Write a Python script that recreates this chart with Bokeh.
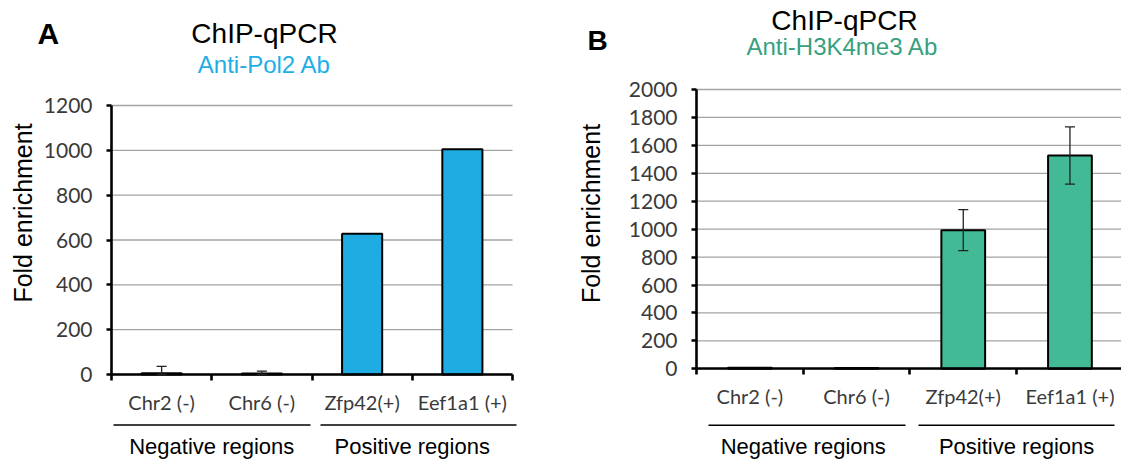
import numpy as np
from bokeh.plotting import figure
from bokeh.models import (Range1d, LinearAxis, FixedTicker, Label, Whisker,
                          ColumnDataSource, TeeHead)
from bokeh.layouts import row
from bokeh.embed import file_html
from bokeh.resources import INLINE

# ---------------- data ----------------
categories = ["Chr2 (-)", "Chr6 (-)", "Zfp42(+)", "Eef1a1 (+)"]
groups = ["Negative regions", "Positive regions"]
group_sizes = [2, 2]

pol2_values = [6, 5, 628, 1005]
pol2_errors = [30, 10, 0, 0]

h3k4_values = [7, 6, 993, 1527]
h3k4_errors = [0, 0, 147, 205]

y_label = "Fold enrichment"
main_title = "ChIP-qPCR"
pol2_subtitle = "Anti-Pol2 Ab"
h3k4_subtitle = "Anti-H3K4me3 Ab"
pol2_ticks = [0, 200, 400, 600, 800, 1000, 1200]
h3k4_ticks = [0, 200, 400, 600, 800, 1000, 1200, 1400, 1600, 1800, 2000]

FIG_H = 459
TICK_FONT = "Lato"
ARIAL = "Liberation Sans"


def make_panel(values, errors, ticks, bar_color, sub_color, subtitle, letter, lay):
    ox = lay["fig_left"]            # page x of the figure's left edge
    W = lay["fig_w"]
    L, T, B = lay["frame"]          # plot area (page px): left, top, bottom
    sx = lay["sx"]                  # px per category
    ymax = ticks[-1]
    sy = (B - T) / ymax
    n = len(categories)

    def dx(px):
        return (px - L) / sx

    def dy(py):
        return (B - py) / sy

    p = figure(width=W, height=FIG_H,
               x_range=Range1d(dx(ox), dx(ox + W)), y_range=Range1d(dy(FIG_H), dy(0)),
               x_axis_type=None, y_axis_type=None,
               output_backend="svg", toolbar_location=None,
               min_border_left=0, min_border_right=0, min_border_top=0, min_border_bottom=0)
    p.outline_line_color = None
    p.background_fill_color = "white"
    p.border_fill_color = "white"

    # horizontal grid lines at the y ticks across the plot area
    p.segment(x0=[0] * len(ticks), x1=[n] * len(ticks), y0=ticks, y1=ticks,
              line_color="#a3a3a3", line_width=1.3)

    # y axis
    yaxis = LinearAxis(ticker=FixedTicker(ticks=ticks), fixed_location=0, bounds=(0, ymax),
                       axis_line_width=2.6, axis_line_color="black",
                       major_tick_out=5, major_tick_in=0, major_tick_line_width=2.6,
                       major_tick_line_color="black",
                       minor_tick_out=0, minor_tick_in=0,
                       major_label_text_font=TICK_FONT,
                       major_label_text_font_size="21px",
                       major_label_text_color="#3a3a3a",
                       major_label_standoff=14)
    p.add_layout(yaxis, "left")

    # x axis: labels at category centres, ticks at category boundaries
    centres = [i + 0.5 for i in range(n)]
    bounds = list(range(n + 1))
    xaxis = LinearAxis(ticker=FixedTicker(ticks=centres, minor_ticks=bounds),
                       fixed_location=0, bounds=(0, n),
                       major_label_overrides={c: cat for c, cat in zip(centres, categories)},
                       axis_line_width=2.6, axis_line_color="black",
                       major_tick_out=0, major_tick_in=0,
                       minor_tick_out=6, minor_tick_in=0, minor_tick_line_width=2.6,
                       minor_tick_line_color="black",
                       major_label_text_font=TICK_FONT,
                       major_label_text_font_size="20px",
                       major_label_text_color="#3a3a3a",
                       major_label_standoff=9)
    p.add_layout(xaxis, "below")

    src = ColumnDataSource(dict(x=centres, top=values))
    p.vbar(x="x", top="top", bottom=0, width=lay["bar_w"], source=src,
           fill_color=bar_color, line_color="black", line_width=2)

    ex, eu, el = [], [], []
    for c, v, e in zip(centres, values, errors):
        if e > 0:
            ex.append(c)
            eu.append(v + e)
            el.append(max(v - e, 0))
    esrc = ColumnDataSource(dict(base=ex, upper=eu, lower=el))
    p.add_layout(Whisker(base="base", upper="upper", lower="lower", source=esrc,
                         level="annotation",
                         line_color="#222222", line_width=1.3,
                         upper_head=TeeHead(size=10, line_color="#222222", line_width=1.3),
                         lower_head=TeeHead(size=10, line_color="#222222", line_width=1.3)))

    def text(x, y, t, size, color="black", align="center", angle=0.0, style="normal"):
        p.add_layout(Label(x=x, y=y, text=t, text_align=align, text_baseline="middle",
                           angle=angle, text_font=ARIAL, text_font_style=style,
                           text_font_size=size, text_color=color))

    # titles (positions are visual centres in page px)
    tx, ty, sxp, sy_ = lay["title"]
    text(dx(tx), dy(ty), main_title, "28px")
    text(dx(sxp), dy(sy_), subtitle, "24px", color=sub_color)
    lx, ly_, lsz = lay["letter"]
    text(dx(lx), dy(ly_), letter, lsz, align="left", style="bold")
    # rotated y label
    yx, yy = lay["ylabel"]
    text(dx(yx), dy(yy), y_label, "25px", angle=np.pi / 2)

    # group brackets and group labels
    starts = np.cumsum([0] + group_sizes[:-1])
    gs = [dx(a) for a, b in lay["group_lines"]]
    ge = [dx(b) for a, b in lay["group_lines"]]
    gy = [dy(lay["line_y"])] * len(groups)
    p.segment(x0=gs, x1=ge, y0=gy, y1=gy, line_color="black", line_width=1.6)
    for g, s, size in zip(groups, starts, group_sizes):
        text(s + size / 2, dy(lay["group_y"]), g, "22px")
    return p


lay_a = dict(fig_left=0, fig_w=560, frame=(111, 105, 374), sx=100.25, bar_w=0.4,
             title=(264, 33, 264, 64), letter=(37, 32.5, "30px"),
             ylabel=(22.5, 212.5), group_lines=[(113, 310), (320, 516)],
             line_y=424.5, group_y=446)
lay_b = dict(fig_left=560, fig_w=561, frame=(696, 89, 368.3), sx=106.7, bar_w=0.41,
             title=(844, 19.5, 842, 46), letter=(587, 40, "28px"),
             ylabel=(590, 213), group_lines=[(708, 905), (918, 1114)],
             line_y=424.7, group_y=446)

pa = make_panel(pol2_values, pol2_errors, pol2_ticks, "#1eace2", "#1eaee6",
                pol2_subtitle, "A", lay_a)
pb = make_panel(h3k4_values, h3k4_errors, h3k4_ticks, "#42ba96", "#38a07f",
                h3k4_subtitle, "B", lay_b)

layout = row(pa, pb)
open("out.html", "w").write(file_html(layout, INLINE))
